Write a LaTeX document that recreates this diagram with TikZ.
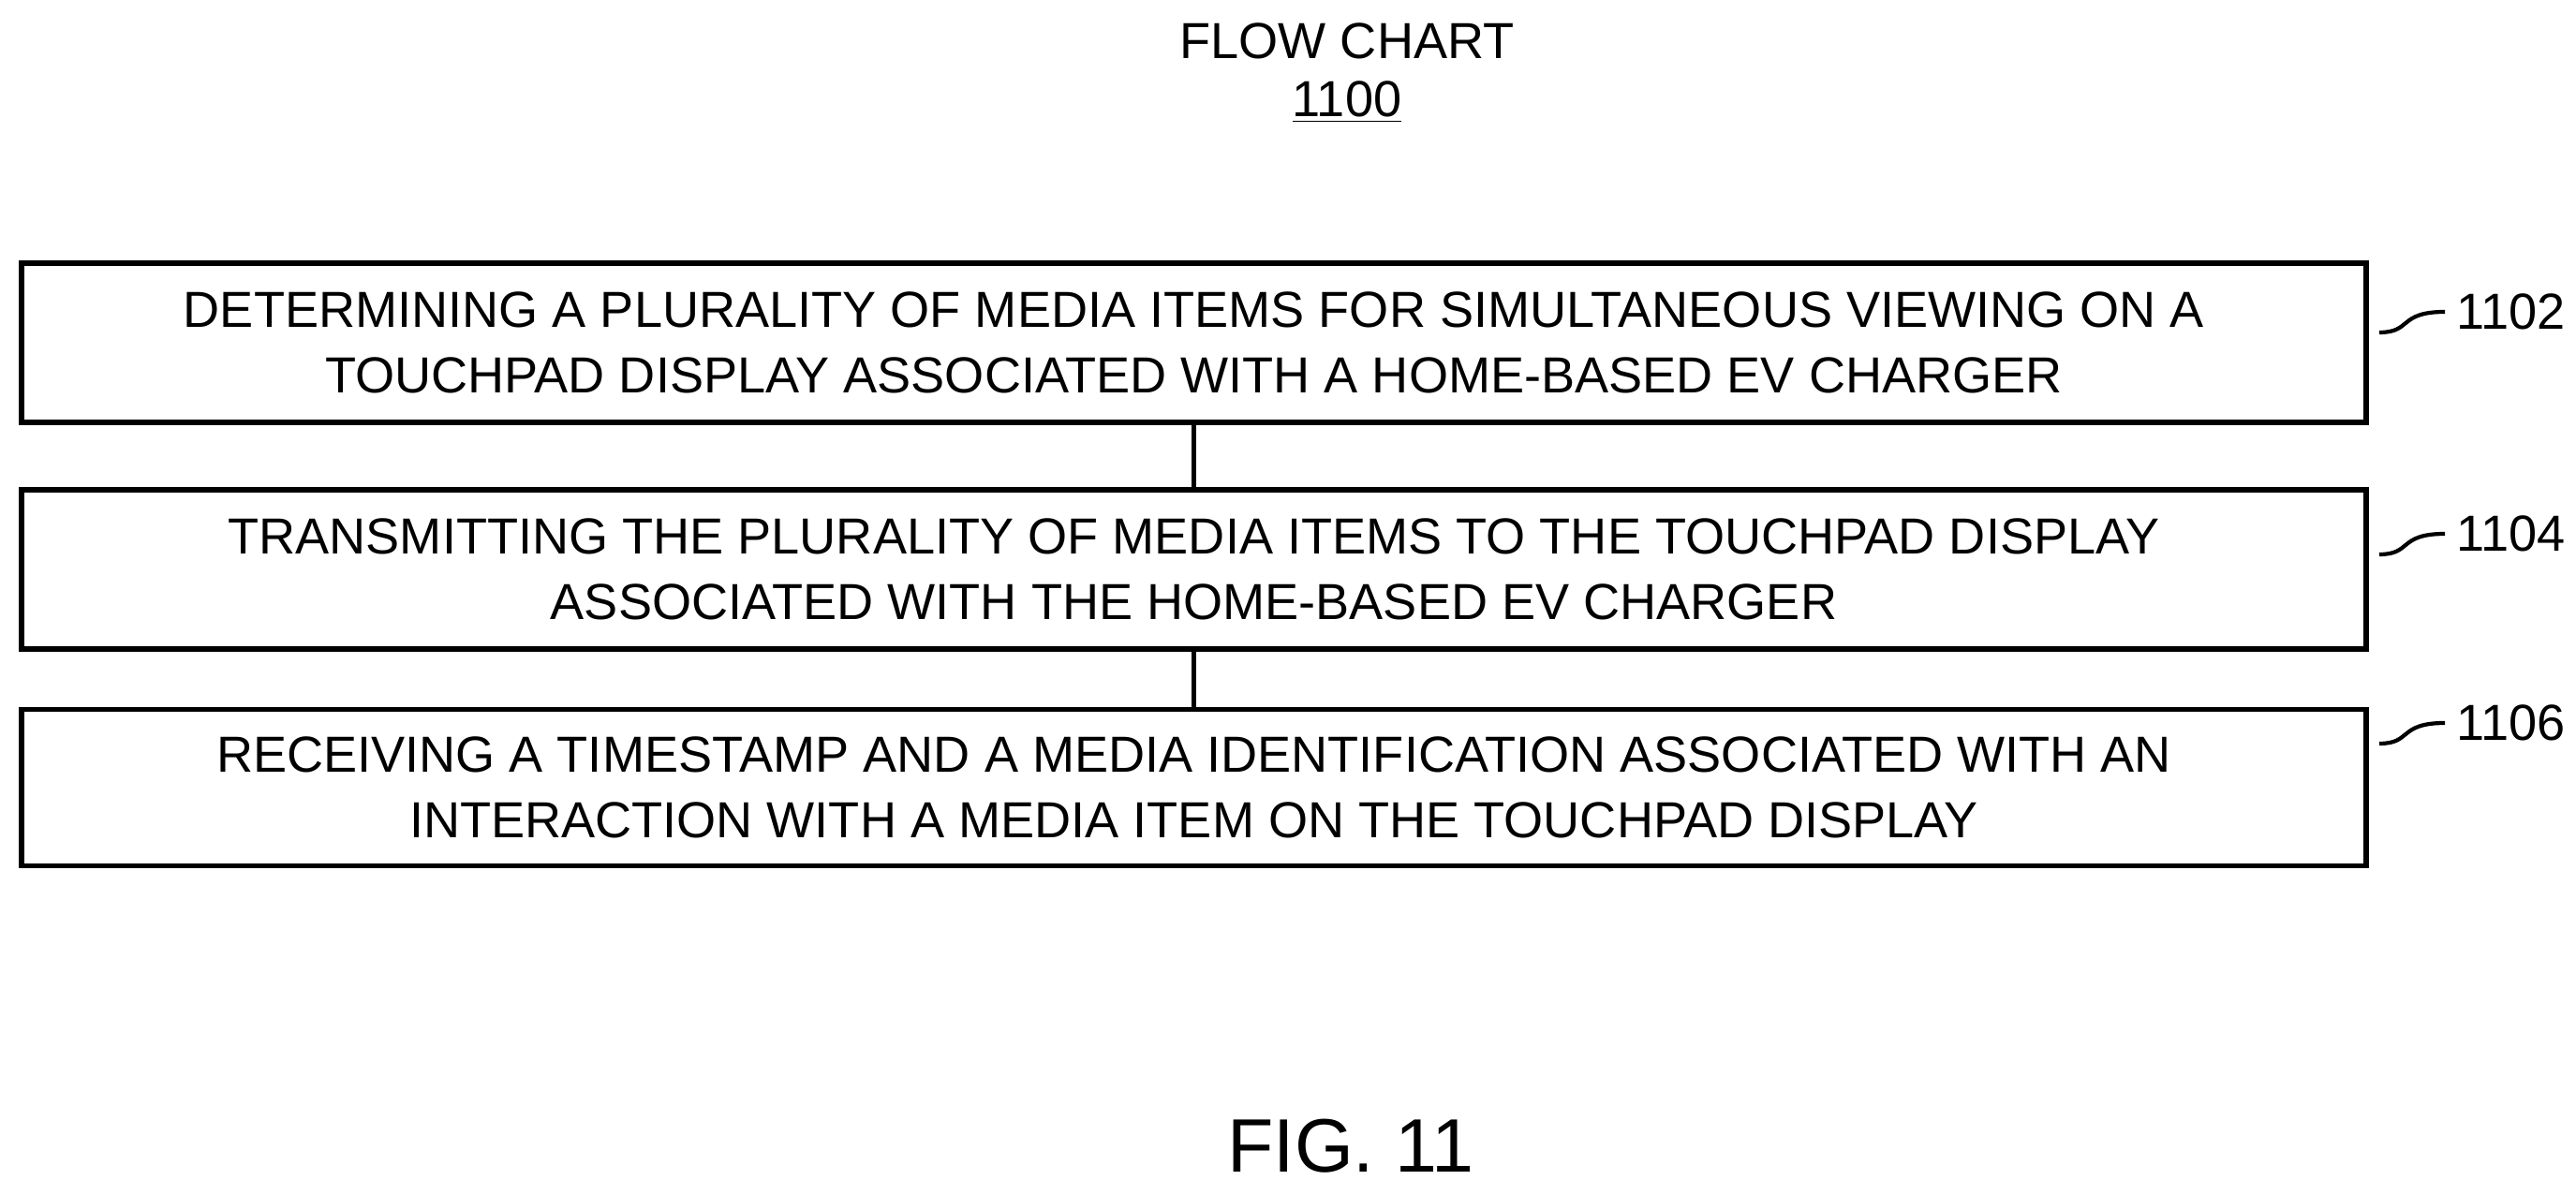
\documentclass[tikz,border=0pt]{standalone}
\usepackage{fontspec}
\setmainfont{Liberation Sans}
\usetikzlibrary{positioning}
\tikzset{stepbox/.style={draw,line width=1.6pt,minimum width=25.03cm,align=center,font=\fontsize{15.4}{20}\selectfont},
  reflabel/.style={font=\fontsize{15.4}{18}\selectfont,anchor=west}}
\begin{document}
\begin{tikzpicture}
\useasboundingbox (0,0) rectangle (27.5,12.76);
\node[font=\fontsize{15.4}{18}\selectfont] (title) at (14.38,12.32) {FLOW CHART};
\node[font=\fontsize{15.4}{18}\selectfont] (num) at (14.38,11.67) {\underline{1100}};
% steps
\node[stepbox,minimum height=1.70cm] (s1) at (12.745,9.10) {DETERMINING A PLURALITY OF MEDIA ITEMS FOR SIMULTANEOUS VIEWING ON A\\ TOUCHPAD DISPLAY ASSOCIATED WITH A HOME-BASED EV CHARGER};
\node[stepbox,minimum height=1.70cm] (s2) at (12.745,6.68) {TRANSMITTING THE PLURALITY OF MEDIA ITEMS TO THE TOUCHPAD DISPLAY\\ ASSOCIATED WITH THE HOME-BASED EV CHARGER};
\node[stepbox,minimum height=1.67cm] (s3) at (12.745,4.35) {RECEIVING A TIMESTAMP AND A MEDIA IDENTIFICATION ASSOCIATED WITH AN\\ INTERACTION WITH A MEDIA ITEM ON THE TOUCHPAD DISPLAY};
\draw[line width=1.6pt] (s1) -- (s2);
\draw[line width=1.6pt] (s2) -- (s3);
% reference numbers
\foreach \n/\y in {1102/9.43,1104/7.06,1106/5.04}{
  \node[reflabel] (l\n) at (26.1,\y) {\n};
  \draw[line width=1.2pt] (25.4,\y-0.22) .. controls (25.75,\y-0.22) and (25.6,\y) .. (l\n.west);
}
\node[font=\fontsize{23}{26}\selectfont] (fig) at (14.42,0.52) {FIG. 11};
\end{tikzpicture}
\end{document}
